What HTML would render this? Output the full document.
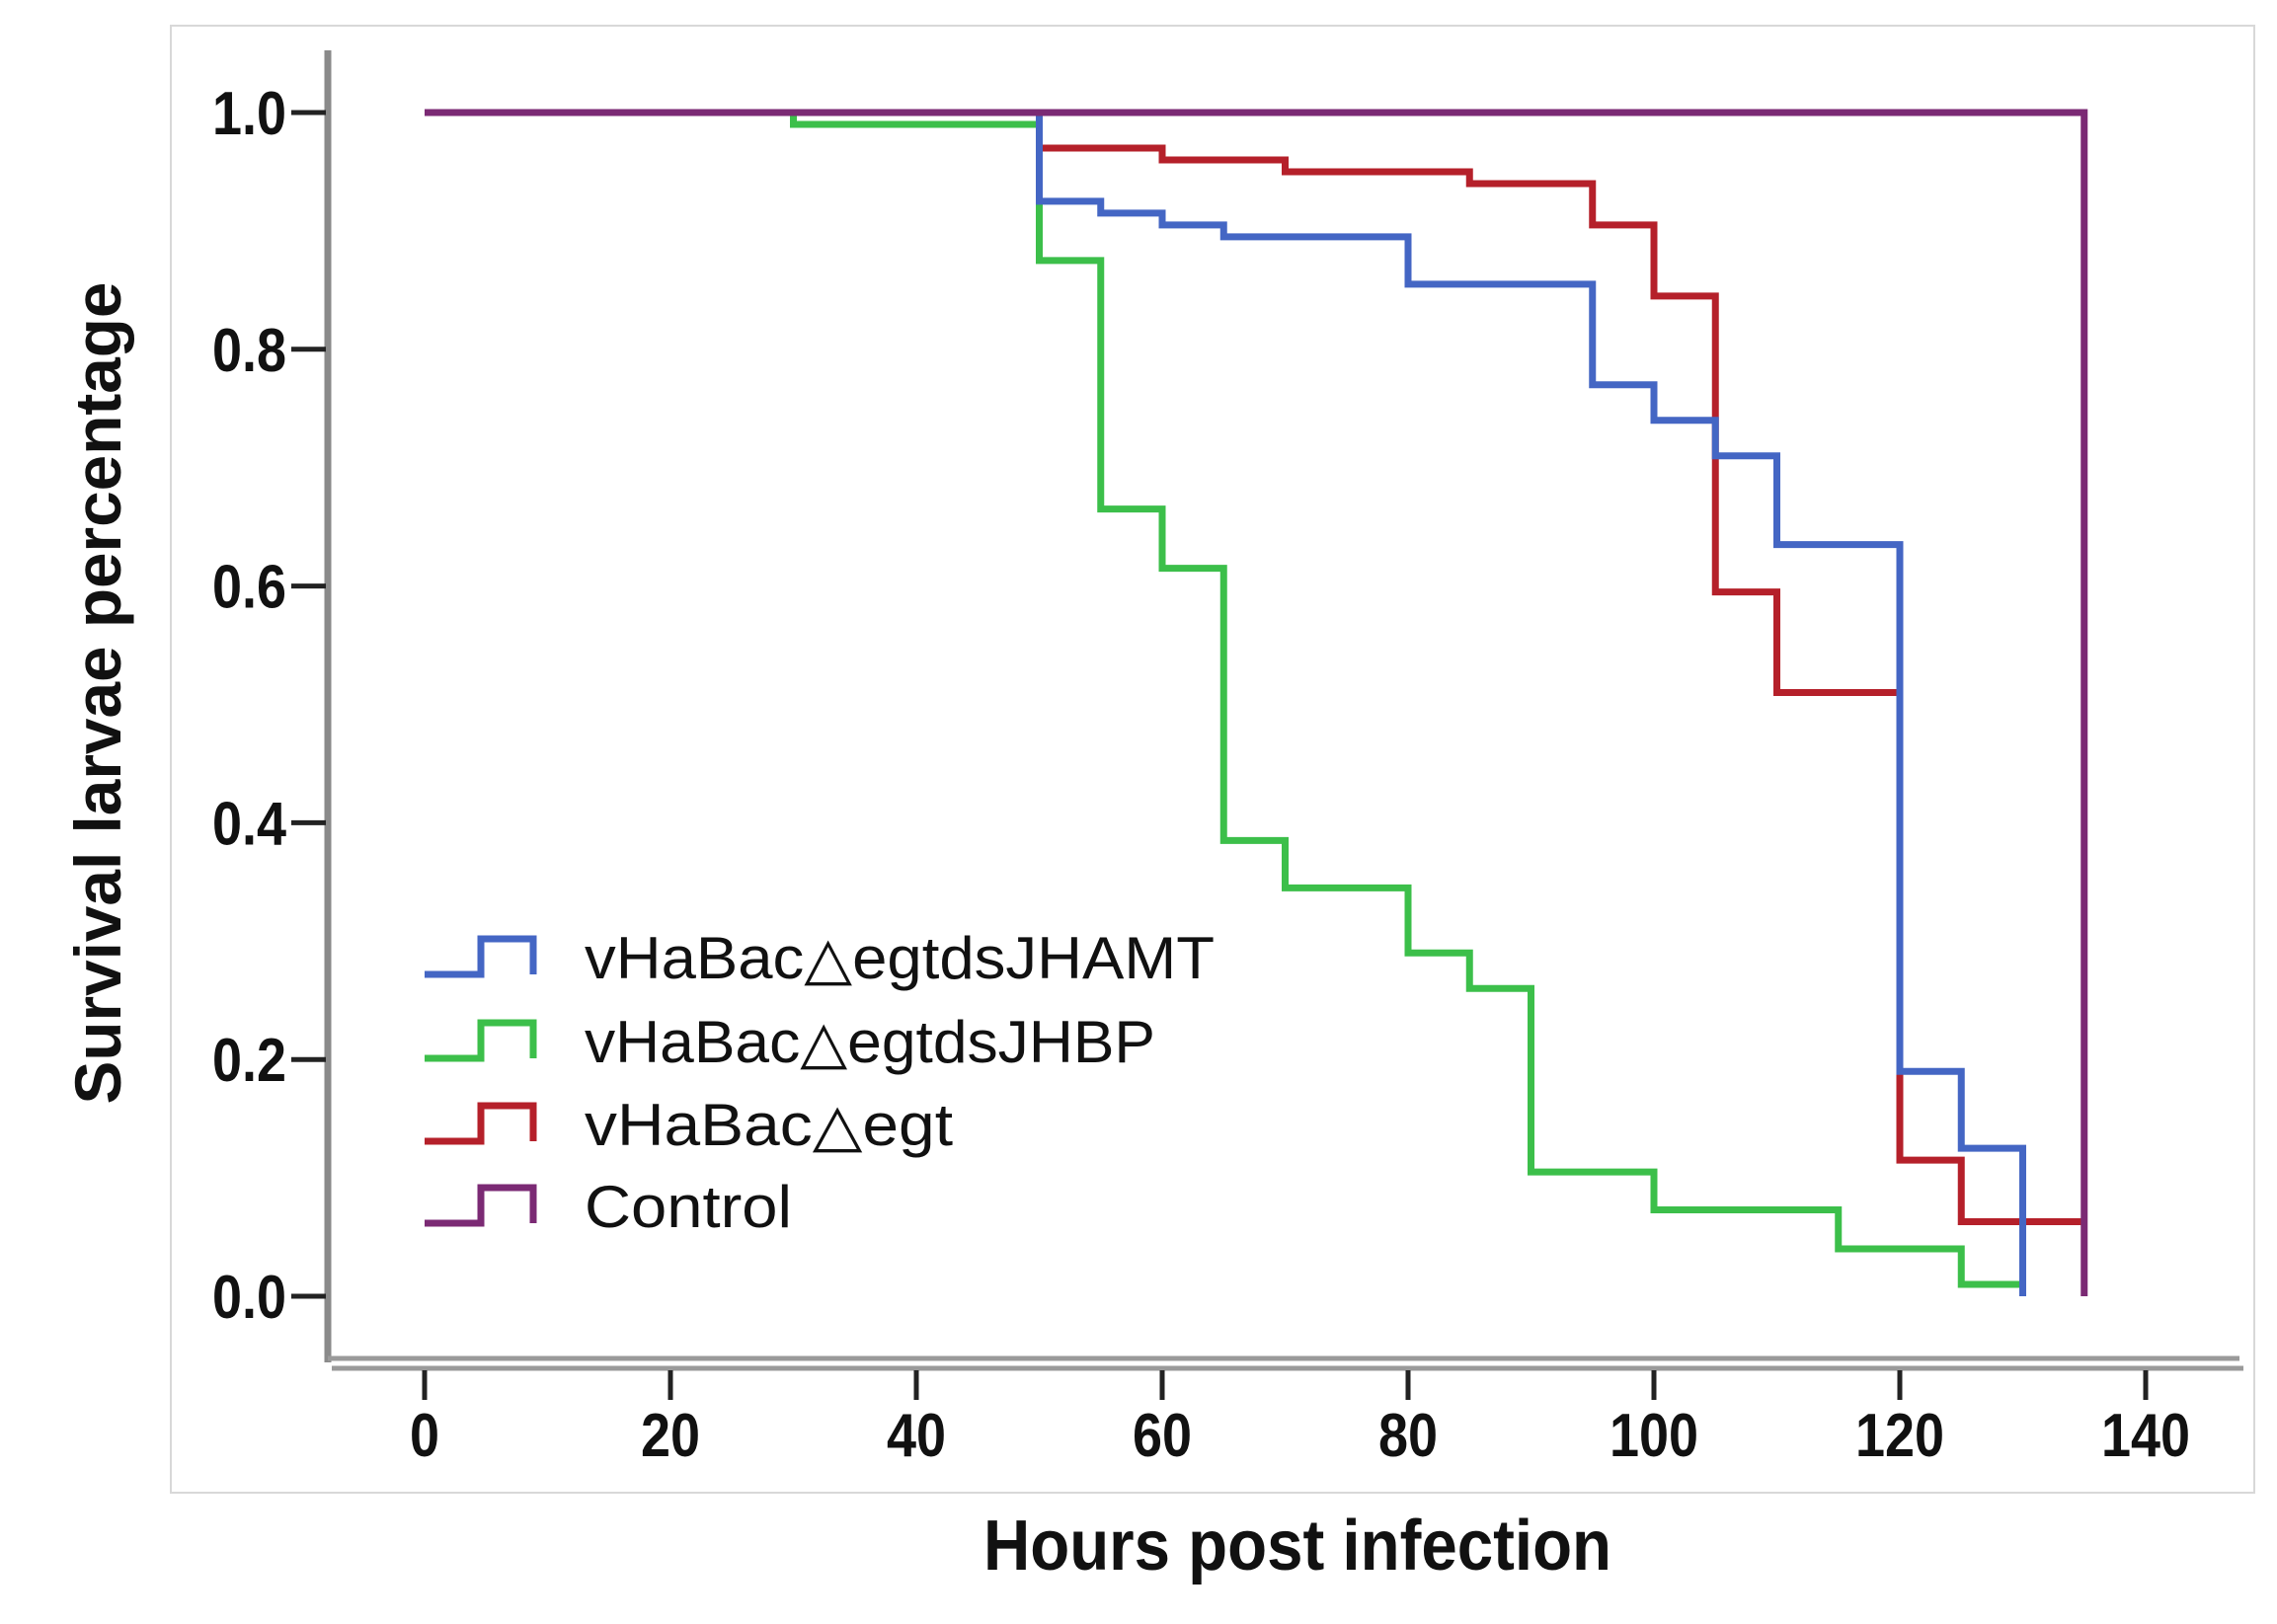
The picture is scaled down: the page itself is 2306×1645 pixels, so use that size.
<!DOCTYPE html>
<html><head><meta charset="utf-8"><style>
html,body{margin:0;padding:0;background:#fff;}
svg{display:block;}
text{font-family:"Liberation Sans Narrow","Liberation Sans",sans-serif;}
</style></head><body>
<svg id="chart" width="2306" height="1645" viewBox="0 0 2306 1645" xmlns="http://www.w3.org/2000/svg">
<rect x="173" y="26" width="2110" height="1486" fill="#fff" stroke="#d8d8d8" stroke-width="2"/>
<g id="axes"></g>
<g id="series"></g>
<g id="legend"></g>
<text x="1314" y="1590" text-anchor="middle" font-size="72" font-weight="bold" textLength="636" lengthAdjust="spacingAndGlyphs" fill="#111">Hours post infection</text>
<text transform="translate(122,702) rotate(-90)" text-anchor="middle" font-size="66" font-weight="bold" textLength="833" lengthAdjust="spacingAndGlyphs" fill="#111">Survival larvae percentage</text>
</svg>
<script>
const xTicks = [0,20,40,60,80,100,120,140];
const yTicks = [0.0,0.2,0.4,0.6,0.8,1.0];
const yTickLabels = ["0.0","0.2","0.4","0.6","0.8","1.0"];
const seriesNames = ["vHaBac\u25B3egtdsJHAMT","vHaBac\u25B3egtdsJHBP","vHaBac\u25B3egt","Control"];
const jhamtTimes = [50,55,60,65,80,95,100,105,110,120,125,130];
const jhamtValues = [0.925,0.915,0.905,0.895,0.855,0.77,0.74,0.71,0.635,0.19,0.125,0.0];
const jhbpTimes = [30,50,55,60,65,70,80,85,90,100,115,125,130];
const jhbpValues = [0.99,0.875,0.665,0.615,0.385,0.345,0.29,0.26,0.105,0.073,0.04,0.01,0.0];
const egtTimes = [50,60,70,85,95,100,105,110,120,125];
const egtValues = [0.97,0.96,0.95,0.94,0.905,0.845,0.595,0.51,0.115,0.063];
const controlTimes = [135];
const controlValues = [0.0];
const endTimes = [130,130,135,135];

const NS="http://www.w3.org/2000/svg";
const X = t => 430 + t*12.45;
const Y = v => 1313 - v*1199;
function mk(tag, attrs, parent){const e=document.createElementNS(NS,tag);for(const k in attrs)e.setAttribute(k,attrs[k]);parent.appendChild(e);return e;}
const axes=document.getElementById('axes');
let e;
e=mk('line',{x1:332,y1:51,x2:332,y2:1380,stroke:'#8a8a8a','stroke-width':7},axes);


e=mk('line',{x1:332,y1:1376,x2:2268,y2:1376,stroke:'#9a9a9a','stroke-width':5},axes);


e=mk('line',{x1:336,y1:1386,x2:2272,y2:1386,stroke:'#9a9a9a','stroke-width':5},axes);


yTicks.forEach((v,i)=>{
  const t=mk('line',{x1:295,y1:Y(v),x2:330,y2:Y(v),stroke:'#222','stroke-width':5},axes);
  
  
  const l=mk('text',{x:290,y:Y(v)+22,'text-anchor':'end','font-size':62,'font-weight':'bold',fill:'#111',textLength:75,lengthAdjust:'spacingAndGlyphs'},axes);
  l.textContent=yTickLabels[i];
  
  
});
xTicks.forEach(v=>{
  const t=mk('line',{x1:X(v),y1:1388,x2:X(v),y2:1418,stroke:'#222','stroke-width':5},axes);
  
  
  const s=String(v);
  const l=mk('text',{x:X(v),y:1475,'text-anchor':'middle','font-size':62,'font-weight':'bold',fill:'#111',textLength:s.length*30,lengthAdjust:'spacingAndGlyphs'},axes);
  l.textContent=s;
  
  
});
function stepPath(times, values, end){
  let d=`M${X(0)},${Y(1)}`;
  times.forEach((t,i)=>{d+=` H${X(t)} V${Y(values[i])}`;});
  d+=` H${X(end)}`;
  return d;
}
const colors=["#4466c4","#3cbf4a","#b5202a","#7b2a74"];
const sg=document.getElementById('series');
const all=[[jhbpTimes,jhbpValues,1,'series-jhbp'],[egtTimes,egtValues,2,'series-egt'],[jhamtTimes,jhamtValues,0,'series-jhamt'],[controlTimes,controlValues,3,'series-control']];
all.forEach(([tt,vv,ci,name])=>{
  let end=endTimes[ci];
  let d;
  if(ci===3){d=`M${X(0)},${Y(1)} H${X(tt[0])} V${Y(vv[0])}`;}
  else d=stepPath(tt,vv,end);
  const p=mk('path',{d:d,fill:'none',stroke:colors[ci],'stroke-width':7,'stroke-linejoin':'miter'},sg);
  
  
});
const lg=document.getElementById('legend');
const legY=[969,1054,1138,1221];
const legW=[638,578,373,210];
seriesNames.forEach((n,i)=>{
  const y=legY[i];
  const s=mk('path',{d:`M430,${y+18} H487 V${y-18} H540 V${y+18}`,fill:'none',stroke:colors[i],'stroke-width':7},lg);
  
  
  const t=mk('text',{x:592,y:y+22,'font-size':60,fill:'#111',textLength:legW[i],lengthAdjust:'spacingAndGlyphs'},lg);
  t.textContent=n;
  
  
});
</script>
</body></html>
